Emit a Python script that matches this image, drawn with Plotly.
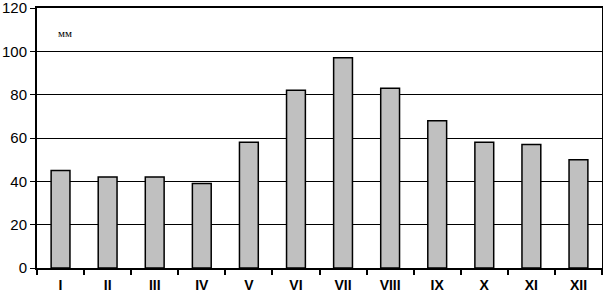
import plotly.graph_objects as go

months = ["I", "II", "III", "IV", "V", "VI", "VII", "VIII", "IX", "X", "XI", "XII"]
precip = [45, 42, 42, 39, 58, 82, 97, 83, 68, 58, 57, 50]
y_ticks = [0, 20, 40, 60, 80, 100, 120]
unit_label = "мм"

fig = go.Figure(go.Bar(
    x=months, y=precip,
    marker=dict(color="#c0c0c0", line=dict(color="black", width=1.5)),
    width=0.4,
))

fig.update_layout(
    width=603, height=299,
    margin=dict(l=37, r=1, t=8, b=31, autoexpand=False),
    paper_bgcolor="white", plot_bgcolor="white",
    showlegend=False,
    annotations=[dict(text=unit_label, x=0.05, y=0.905, xref="paper", yref="paper",
                      showarrow=False, xanchor="center", yanchor="middle",
                      font=dict(family="Liberation Serif", size=11, color="black"))],
)
fig.update_xaxes(
    type="category", showline=True, linecolor="black", linewidth=2, mirror=True,
    ticks="outside", tickson="boundaries", ticklen=5, tickwidth=2, tickcolor="black",
    tickfont=dict(family="Liberation Sans", size=14, color="black", weight="bold"),
    ticklabelstandoff=3,
    showgrid=False, range=[-0.5, 11.5], automargin=False,
)
fig.update_yaxes(
    range=[0, 120], tickvals=y_ticks, showline=True, linecolor="black", linewidth=2, mirror=True,
    ticks="outside", ticklen=5, tickwidth=1, tickcolor="black",
    tickfont=dict(family="Liberation Sans", size=15, color="black"),
    ticklabeloverflow="allow",
    showgrid=True, gridcolor="black", gridwidth=1, zeroline=False, automargin=False,
)
fig.write_html("out.html", config={"displayModeBar": False},
               post_script="document.body.style.margin='0';document.body.style.overflow='hidden';")
